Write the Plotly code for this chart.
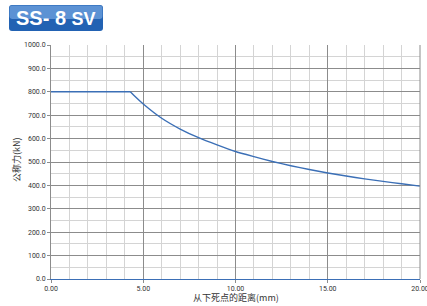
import plotly.graph_objects as go

# Data
distance_mm = [0, 4.3, 4.5, 5, 6, 7, 8, 9, 10, 11, 12, 13, 14, 15, 16, 17, 18, 19, 20]
force_kN = [800, 800, 784, 748, 687, 641, 604, 573, 545, 523, 502, 484, 468, 453, 440, 428, 417, 407, 397]

title_main = "SS- 8"
title_suffix = "SV"
x_title = "从下死点的距离(mm)"
y_title = "公称力(kN)"

flat_n = 2  # first two points form the flat segment

fig = go.Figure()
fig.add_trace(go.Scatter(
    x=distance_mm[:flat_n], y=force_kN[:flat_n], mode="lines",
    line=dict(color="#3b6fb6", width=1.4),
    showlegend=False, hoverinfo="skip",
))
fig.add_trace(go.Scatter(
    x=distance_mm[flat_n - 1:], y=force_kN[flat_n - 1:], mode="lines",
    line=dict(color="#3b6fb6", width=1.4, shape="spline", smoothing=0.5),
    showlegend=False, hoverinfo="skip",
))

tick_font = dict(family="Roboto, Arial, sans-serif", size=7, color="#333333")
cjk = "Noto Sans CJK SC, sans-serif"

L, R, T, B = 51, 7, 45, 27
fig.update_layout(
    width=427, height=306,
    margin=dict(l=L, r=R, t=T, b=B),
    paper_bgcolor="white", plot_bgcolor="white",
    font=dict(family=cjk),
    xaxis=dict(
        range=[0, 20], tickvals=[0, 5, 10, 15, 20], tickformat=".2f", tickfont=tick_font,
        showgrid=True, gridcolor="#8c8c8c", gridwidth=1,
        minor=dict(dtick=1, showgrid=True, gridcolor="#d4d4d4", gridwidth=1),
        showline=True, linecolor="#3b6fb6", linewidth=1,
        ticks="outside", ticklen=3, tickcolor="#8c8c8c",
        zeroline=False, fixedrange=True, automargin=False,
        ticklabeloverflow="allow",
    ),
    yaxis=dict(
        range=[0, 1000], dtick=100, tickformat=".1f", tickfont=tick_font,
        showgrid=True, gridcolor="#8c8c8c", gridwidth=1,
        minor=dict(dtick=50, showgrid=True, gridcolor="#d4d4d4", gridwidth=1),
        showline=True, linecolor="#8c8c8c", linewidth=1,
        ticks="outside", ticklen=3, tickcolor="#8c8c8c",
        zeroline=False, fixedrange=True, automargin=False,
    ),
)

W = 427 - L - R
H = 306 - T - B
def px(x):
    return (x - L) / W
def py(y):
    return 1 - (y - T) / H

# Axis titles
fig.add_annotation(xref="paper", yref="paper", x=px((L + 427 - R) / 2), y=py(297.5),
                   text=x_title, showarrow=False, xanchor="center", yanchor="middle",
                   font=dict(family=cjk, size=9, color="#333333"))
fig.add_annotation(xref="paper", yref="paper", x=px(16), y=py(160),
                   text=y_title, showarrow=False, xanchor="center", yanchor="middle",
                   textangle=-90, font=dict(family=cjk, size=9, color="#333333"))

# Right border line
fig.add_shape(type="line", xref="paper", yref="paper", x0=1, x1=1, y0=0, y1=1,
              line=dict(color="#8c8c8c", width=1))

def rounded_rect(x0, y0, x1, y1, rx, ry):
    return (f"M {x0+rx},{y0} L {x1-rx},{y0} Q {x1},{y0} {x1},{y0+ry} "
            f"L {x1},{y1-ry} Q {x1},{y1} {x1-rx},{y1} L {x0+rx},{y1} "
            f"Q {x0},{y1} {x0},{y1-ry} L {x0},{y0+ry} Q {x0},{y0} {x0+rx},{y0} Z")

bx0, bx1, by0, by1 = 9, 103, 5, 31
rx, ry = 3 / W, 3 / H
fig.add_shape(type="path", xref="paper", yref="paper",
              path=rounded_rect(px(bx0), py(by1), px(bx1), py(by0), rx, ry),
              fillcolor="#2262b3", line=dict(width=0), layer="above")
fig.add_shape(type="path", xref="paper", yref="paper",
              path=rounded_rect(px(bx0 + 0.5), py(by0 + 14), px(bx1 - 0.5), py(by0 + 0.5), rx, ry),
              fillcolor="rgba(140,185,238,0.55)", line=dict(width=0), layer="above")
fig.add_annotation(xref="paper", yref="paper", x=px((bx0 + bx1) / 2), y=py((by0 + by1) / 2 + 0.5),
                   text=f"<b>{title_main} <span style='font-size:18px'>{title_suffix}</span></b>",
                   showarrow=False,
                   font=dict(family="Liberation Sans, Arial, sans-serif", size=20, color="white"),
                   xanchor="center", yanchor="middle")

fig.write_html("out.html", config={"displayModeBar": False},
               post_script="document.body.style.margin='0';document.body.style.padding='0';")
